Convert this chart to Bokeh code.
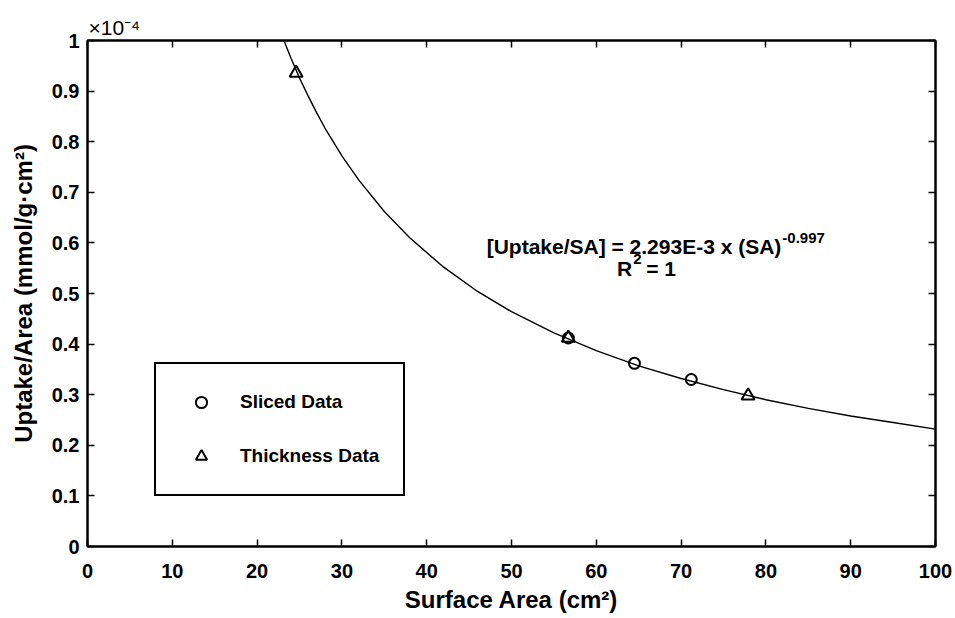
from bokeh.plotting import figure
from bokeh.models import Range1d, LinearAxis, FixedTicker, Label, Legend, LegendItem, Title
from bokeh.embed import file_html
from bokeh.resources import INLINE

# ---- data ----
sliced_x = [56.7, 64.5, 71.2]
sliced_y = [0.412, 0.362, 0.330]          # x 1e-4 mmol/g.cm^2
thick_x = [24.6, 56.7, 77.9]
thick_y = [0.936, 0.412, 0.298]

fit_x = [23, 24, 25, 26, 27, 28, 30, 32, 35, 38, 42, 46, 50, 55, 60, 65, 70, 75, 80, 85, 90, 95, 100]
fit_y = [1.007, 0.965, 0.926, 0.891, 0.858, 0.827, 0.772, 0.724, 0.662, 0.610, 0.552, 0.504,
         0.464, 0.422, 0.387, 0.357, 0.332, 0.310, 0.290, 0.273, 0.258, 0.245, 0.232]

x_ticks = [0, 10, 20, 30, 40, 50, 60, 70, 80, 90, 100]
x_tick_labels = ["0", "10", "20", "30", "40", "50", "60", "70", "80", "90", "100"]
y_ticks = [0, 0.1, 0.2, 0.3, 0.4, 0.5, 0.6, 0.7, 0.8, 0.9, 1]
y_tick_labels = ["0", "0.1", "0.2", "0.3", "0.4", "0.5", "0.6", "0.7", "0.8", "0.9", "1"]

series_names = ["Sliced Data", "Thickness Data"]
x_title = "Surface Area (cm²)"
y_title = "Uptake/Area (mmol/g·cm²)"
multiplier = "×10⁻⁴"

FONT = "Liberation Sans"

p = figure(width=955, height=618, output_backend="svg", toolbar_location=None,
           x_range=Range1d(0, 100), y_range=Range1d(0, 1),
           min_border_left=87, min_border_right=20, min_border_top=40, min_border_bottom=72,
           background_fill_color="white", border_fill_color="white")
p.xgrid.visible = False
p.ygrid.visible = False
p.outline_line_color = "black"
p.outline_line_width = 2

# multiplier above the y axis
p.title = Title(text=multiplier, align="left", offset=1, standoff=4,
                text_font=FONT, text_font_style="normal", text_font_size="21px",
                text_color="black")


def style_axis(ax, ticks, labels, show_labels=True):
    ax.ticker = FixedTicker(ticks=ticks)
    ax.major_tick_in = 7
    ax.major_tick_out = 0
    ax.minor_tick_line_color = None
    ax.axis_line_color = "black"
    ax.axis_line_width = 2
    ax.major_tick_line_color = "black"
    ax.major_tick_line_width = 1.5
    ax.major_label_text_font = FONT
    ax.major_label_text_font_style = "bold"
    if show_labels:
        ax.major_label_overrides = {t: l for t, l in zip(ticks, labels)}
        ax.major_label_text_color = "black"
        ax.major_label_text_font_size = "20px"
    else:
        ax.major_label_text_color = None
        ax.major_label_text_alpha = 0
        ax.major_label_text_font_size = "1px"
        ax.major_label_standoff = 0


xa = p.xaxis[0]
ya = p.yaxis[0]
style_axis(xa, x_ticks, x_tick_labels)
style_axis(ya, y_ticks, y_tick_labels)
xa.major_label_standoff = 17
ya.major_label_standoff = 8
xa.axis_label = x_title
ya.axis_label = y_title
for ax in (xa, ya):
    ax.axis_label_text_font = FONT
    ax.axis_label_text_font_style = "bold"
    ax.axis_label_text_font_size = "24px"
    ax.axis_label_text_color = "black"
xa.axis_label_standoff = 5
ya.axis_label_standoff = 12

top_ax = LinearAxis()
right_ax = LinearAxis()
style_axis(top_ax, x_ticks, x_tick_labels, show_labels=False)
style_axis(right_ax, y_ticks, y_tick_labels, show_labels=False)
p.add_layout(top_ax, "above")
p.add_layout(right_ax, "right")

# fitted curve
p.line(fit_x, fit_y, line_color="black", line_width=1.4)

# data points
r_sl = p.scatter(sliced_x, sliced_y, marker="circle", size=11, fill_color=None,
                 line_color="black", line_width=2)
r_th = p.scatter(thick_x, thick_y, marker="triangle", size=13, fill_color=None,
                 line_color="black", line_width=2)

legend = Legend(items=[LegendItem(label=series_names[0], renderers=[r_sl]),
                       LegendItem(label=series_names[1], renderers=[r_th])],
                location=(67, 50), padding=24, spacing=26, margin=0,
                glyph_width=42, glyph_height=28, label_standoff=18,
                label_text_font=FONT, label_text_font_style="bold",
                label_text_font_size="19px", label_text_color="black",
                border_line_color="black", border_line_width=2, border_line_alpha=1,
                background_fill_color="white", background_fill_alpha=1)
p.add_layout(legend)

# annotation text (fit equation)
def lab(x, y, text, size, align="left"):
    p.add_layout(Label(x=x, y=y, text=text, text_font=FONT, text_font_style="bold",
                       text_font_size=size, text_color="black", text_align=align,
                       text_baseline="middle"))

lab(81.82, 0.593, "[Uptake/SA] = 2.293E-3 x (SA)", "21px", "right")
lab(81.94, 0.609, "-0.997", "15px")
lab(64.23, 0.5495, "R", "21px", "right")
lab(64.35, 0.568, "2", "15px")
lab(65.88, 0.5495, "= 1", "21px")

open("out.html", "w").write(file_html(p, INLINE))
